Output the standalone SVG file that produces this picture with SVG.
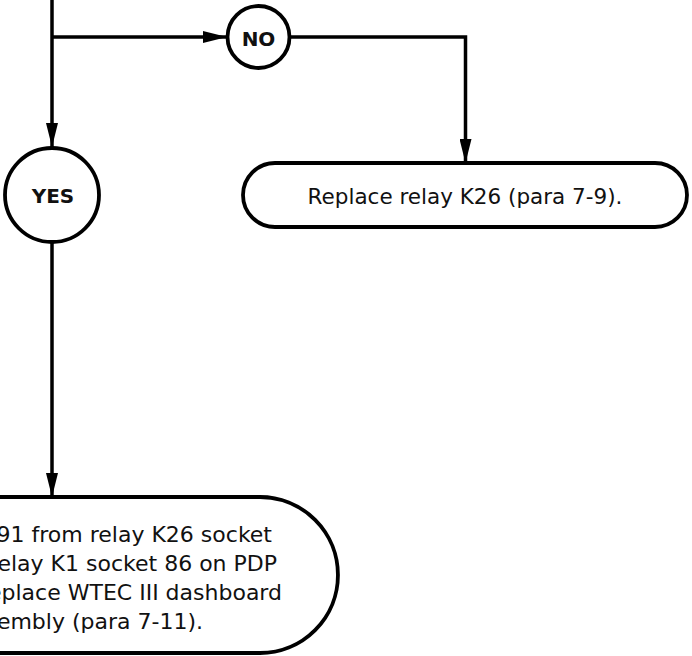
<svg xmlns="http://www.w3.org/2000/svg" width="692" height="656" viewBox="0 0 692 656">
<style>
.ln{fill:none;stroke:#000;stroke-width:3.5}
.nd{fill:#fff;stroke:#000;stroke-width:3.8}
.lb{font-family:"DejaVu Sans",Verdana,sans-serif;font-weight:bold;font-size:20px;fill:#111;text-anchor:middle}
.tx{font-family:"DejaVu Sans",Verdana,sans-serif;font-size:21.5px;fill:#111}
.tb{font-size:22px}
</style>
<defs>
<marker id="ah" viewBox="0 0 24 12" refX="24" refY="6" markerWidth="24" markerHeight="12" markerUnits="userSpaceOnUse" orient="auto">
<path d="M0,0 L24,6 L0,12 Z" fill="#000"/>
</marker>
</defs>
<g id="connectors">
<path class="ln" d="M52,0 L52,147" marker-end="url(#ah)"/>
<path class="ln" d="M52,37 L227,37" marker-end="url(#ah)"/>
<path class="ln" d="M290,37 L465.5,37 L465.5,163" marker-end="url(#ah)"/>
<path class="ln" d="M52,243 L52,497" marker-end="url(#ah)"/>
</g>
<g id="no">
<circle class="nd" cx="258.5" cy="37" r="31"/>
<text class="lb" x="258.5" y="46">NO</text>
</g>
<g id="yes">
<circle class="nd" cx="52" cy="195" r="47"/>
<text class="lb" x="53" y="202.5">YES</text>
</g>
<g id="replace">
<rect class="nd" x="243" y="163" width="444" height="64" rx="32" ry="32"/>
<text class="tx" x="465" y="204" text-anchor="middle">Replace relay K26 (para 7-9).</text>
</g>
<g id="move">
<path class="nd" d="M-20,497 L260,497 A78,78 0 0 1 260,653 L-20,653"/>
<text class="tx tb" text-anchor="end"><tspan x="272" y="542">91 from relay K26 socket</tspan><tspan x="277" y="571">elay K1 socket 86 on PDP</tspan><tspan x="282" y="600">eplace WTEC III dashboard</tspan><tspan x="203" y="629">sembly (para 7-11).</tspan></text>
</g>
</svg>
